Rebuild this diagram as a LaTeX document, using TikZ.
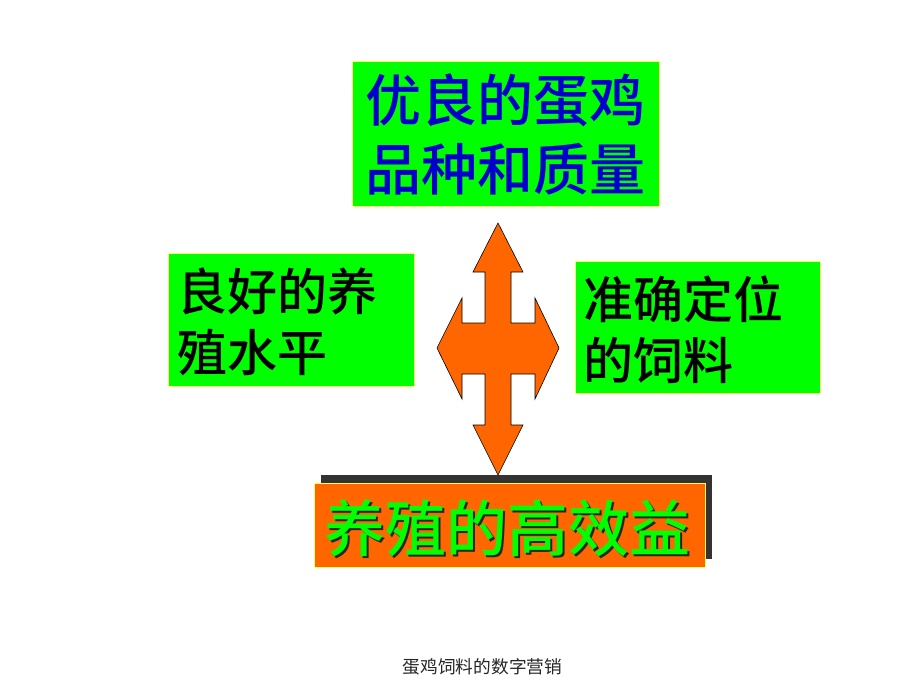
\documentclass[tikz,border=0pt]{standalone}
\usepackage{fontspec}
\setmainfont{Noto Sans CJK SC}
\newfontfamily\medfont{Noto Sans CJK SC Medium}
\usetikzlibrary{positioning}
\definecolor{boxgreen}{RGB}{0,255,0}
\definecolor{boxorange}{RGB}{255,102,0}
\definecolor{edgeyellow}{RGB}{255,255,102}
\definecolor{textblue}{RGB}{0,0,204}
\begin{document}
\begin{tikzpicture}[x=1pt, y=-1pt, every node/.style={inner sep=0pt, outer sep=0pt},
  greenbox/.style={draw=edgeyellow, line width=1pt, fill=boxgreen, rectangle},
  boxtext/.style={align=left, font=\medfont\fontsize{50}{61}\selectfont}]
\useasboundingbox[fill=white] (0,0) rectangle (920,690);
% boxes
\node[greenbox, minimum width=307pt, minimum height=144pt] (breed) at (505.5,134) {};
\node[greenbox, minimum width=246pt, minimum height=133pt] (farm) at (291,319.5) {};
\node[greenbox, minimum width=245pt, minimum height=132pt] (feed) at (697.5,327) {};
\fill[black!80] (321,475) rectangle (712,559); % shadow of the result box
\node[draw=edgeyellow, line width=1pt, fill=boxorange, minimum width=391pt, minimum height=84pt] (result) at (509.5,525) {};
% texts
\node[align=center, text=textblue, font=\medfont\fontsize{56}{69}\selectfont] (breedtext) at (breed.center) {优良的蛋鸡\\品种和质量};
\node[boxtext, anchor=west] (farmtext) at (177,322) {良好的养\\殖水平};
\node[boxtext, anchor=west] (feedtext) at (583,330) {准确定位\\的饲料};
\node[font=\medfont\fontsize{61}{61}\selectfont, text=black!85] (resultshadow) at (509.5,530) {养殖的高效益};
\node[font=\medfont\fontsize{61}{61}\selectfont, text=boxgreen] (resulttext) at (507.5,528) {养殖的高效益};
% four-way arrow
\draw[fill=boxorange, line width=0.6pt, line join=miter]
  (498,223) -- (523,272) -- (511,272) -- (511,323) -- (535,323) -- (535,298) -- (559,348)
  -- (535,399) -- (535,374) -- (511,374) -- (511,425) -- (523,425) -- (498,475)
  -- (473,425) -- (485,425) -- (485,374) -- (462,374) -- (462,399) -- (437,348)
  -- (462,298) -- (462,323) -- (485,323) -- (485,272) -- (473,272) -- cycle;
\node[font=\fontsize{17.7}{20}\selectfont, text=black!85] (footer) at (482.5,667) {蛋鸡饲料的数字营销};
\end{tikzpicture}
\end{document}
